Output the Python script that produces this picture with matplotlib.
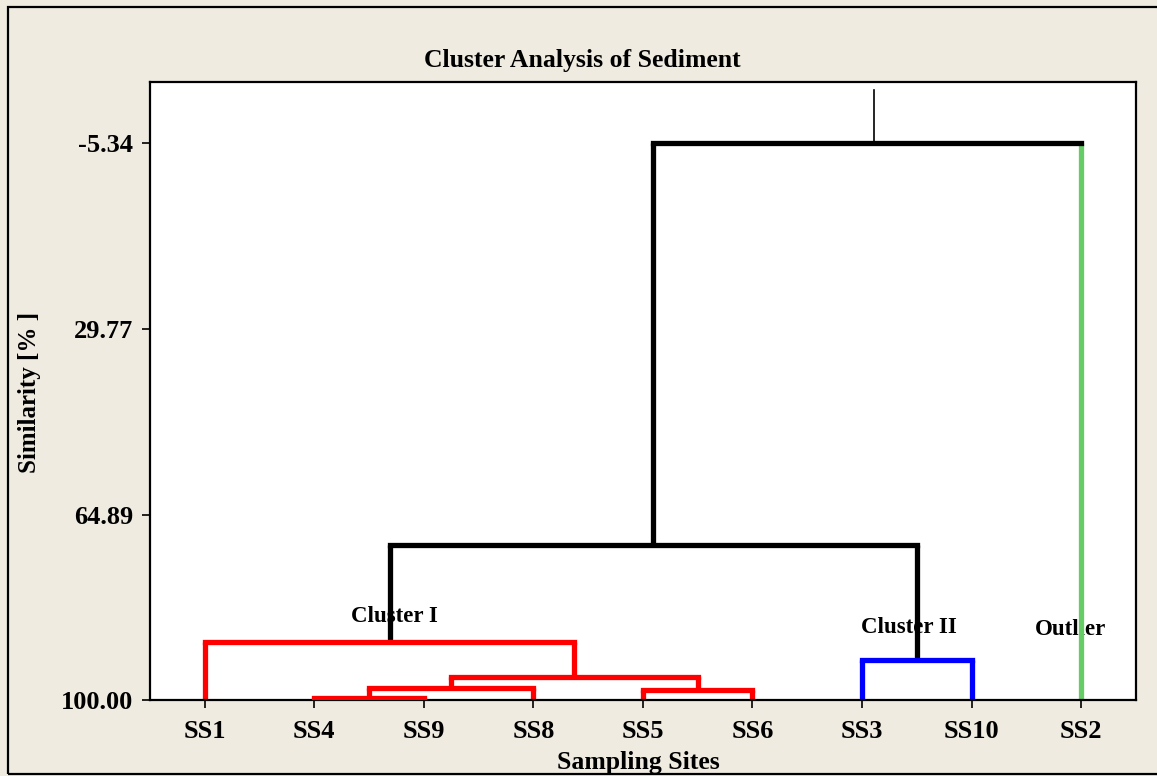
import matplotlib
matplotlib.use('Agg')
import matplotlib.pyplot as plt
from matplotlib.patches import Rectangle

# leaves in dendrogram order
labels = ['SS1', 'SS4', 'SS9', 'SS8', 'SS5', 'SS6', 'SS3', 'SS10', 'SS2']
leaf_colors = ['red', 'red', 'red', 'red', 'red', 'red', 'blue', 'blue', '#66cc66']

# merges: (child a, child b, similarity, colour); new node ids start at 9
merges = [
    (1, 2, 99.6, 'red'),
    (9, 3, 97.7, 'red'),
    (4, 5, 98.0, 'red'),
    (10, 11, 95.5, 'red'),
    (0, 12, 89.0, 'red'),
    (6, 7, 92.3, 'blue'),
    (13, 14, 70.6, 'black'),
    (15, 8, -5.34, 'black'),
]
root_top = -15.4

yticks = [-5.34, 29.77, 64.89, 100.00]
annotations = [('Cluster I', 2.73, 84.1), ('Cluster II', 7.43, 86.2), ('Outlier', 8.9, 86.6)]

bg = '#efebe1'
font = 'Liberation Serif'

fig = plt.figure(figsize=(11.57, 7.76), dpi=100, facecolor=bg)
ax = fig.add_axes([0.1296, 0.0973, 0.9818 - 0.1296, 0.8943 - 0.0973])

# node positions
xs = {i: i + 1 for i in range(len(labels))}
hs = {i: 100.0 for i in range(len(labels))}
lw = 3.8
for k, (a, b, h, c) in enumerate(merges):
    node = len(labels) + k
    for ch in (a, b):
        leg_c = leaf_colors[ch] if ch < len(labels) else c
        ax.plot([xs[ch], xs[ch]], [hs[ch], h], color=leg_c, lw=lw, solid_capstyle='butt', zorder=2)
    ax.plot([xs[a], xs[b]], [h, h], color=c, lw=lw, solid_capstyle='projecting', zorder=3)
    xs[node] = (xs[a] + xs[b]) / 2
    hs[node] = h

root = len(labels) + len(merges) - 1
ax.plot([xs[root] + 0.06, xs[root] + 0.06], [hs[root], root_top], color='black', lw=1.2)

for txt, x, y in annotations:
    ax.text(x, y, txt, ha='center', va='center', fontsize=16.5, fontweight='bold',
            family=font, zorder=1)

ax.set_xlim(0.5, 9.5)
ax.set_ylim(100, -16.9)
ax.set_xticks(range(1, len(labels) + 1))
ax.set_xticklabels(labels)
ax.set_yticks(yticks)
ax.set_yticklabels([f'{v:.2f}' for v in yticks])
for lab in ax.get_xticklabels() + ax.get_yticklabels():
    lab.set_fontsize(19)
    lab.set_fontweight('bold')
    lab.set_family(font)
ax.tick_params(axis='both', direction='out', length=6, width=1.2, colors='black', pad=6)
ax.tick_params(axis='x', pad=8)
for sp in ax.spines.values():
    sp.set_linewidth(1.6)

fig.text(582 / 1157, 1 - 60 / 776, 'Cluster Analysis of Sediment', ha='center', va='center',
         fontsize=18.5, fontweight='bold', family=font)
fig.text(638 / 1157, 1 - 762 / 776, 'Sampling Sites', ha='center', va='center',
         fontsize=18.5, fontweight='bold', family=font)
fig.text(30 / 1157, 1 - 392 / 776, 'Similarity [% ]', ha='center', va='center', rotation=90,
         fontsize=18, fontweight='bold', family=font)

fig.patches.append(Rectangle((8 / 1157, 2 / 776), 1.0, 1 - 9 / 776, transform=fig.transFigure,
                             fill=False, edgecolor='black', lw=1.6))

fig.savefig('out.png', dpi=100, facecolor=bg)
